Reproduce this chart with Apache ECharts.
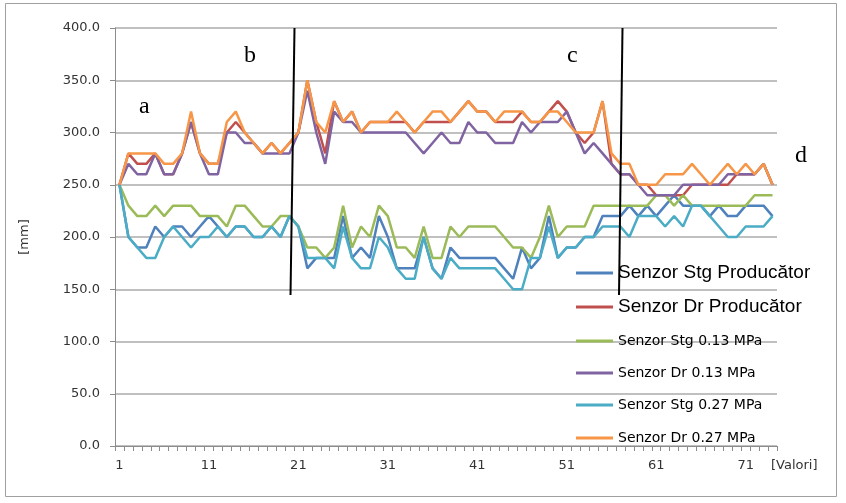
<!DOCTYPE html>
<html>
<head>
<meta charset="utf-8">
<script src="https://cdn.jsdelivr.net/npm/echarts@6/dist/echarts.min.js"></script>
<style>
html,body{margin:0;padding:0;background:#fff;}
#chart{width:846px;height:503px;}
</style>
</head>
<body>
<div id="chart"></div>
<script>
// ---- data ----
var categories = [];
for (var i = 1; i <= 74; i++) categories.push(String(i));

var seriesNames = [
  'Senzor Stg Producător',
  'Senzor Dr Producător',
  'Senzor Stg 0.13 MPa',
  'Senzor Dr 0.13 MPa',
  'Senzor Stg 0.27 MPa',
  'Senzor Dr 0.27 MPa'
];

var stgProducator = [
  250,200,190,190,210,200,210,210,200,210,
  220,210,200,210,210,200,200,210,200,220,
  210,170,180,180,180,220,180,190,180,220,
  200,170,170,170,200,170,160,190,180,180,
  180,180,180,170,160,190,170,180,220,180,
  190,190,200,200,220,220,220,230,220,230,
  220,230,240,230,230,230,220,230,220,220,
  230,230,230,220
];
var drProducator = [
  250,280,270,270,280,260,260,280,310,280,
  270,270,300,310,300,290,280,290,280,290,
  300,350,310,280,330,310,320,300,310,310,
  310,310,310,300,310,310,310,310,320,330,
  320,320,310,310,310,320,310,310,320,330,
  320,300,290,300,330,270,260,260,250,250,
  240,240,240,240,250,250,250,250,250,260,
  260,260,270,250
];
var stg013 = [
  250,230,220,220,230,220,230,230,230,220,
  220,220,210,230,230,220,210,210,220,220,
  210,190,190,180,190,230,190,210,200,230,
  220,190,190,180,210,180,180,210,200,210,
  210,210,210,200,190,190,180,200,230,200,
  210,210,210,230,230,230,230,230,230,230,
  240,240,230,240,230,230,230,230,230,230,
  230,240,240,240
];
var dr013 = [
  250,270,260,260,280,260,260,280,310,280,
  260,260,300,300,290,290,280,280,280,280,
  300,340,300,270,320,310,310,300,300,300,
  300,300,300,290,280,290,300,290,290,310,
  300,300,290,290,290,310,300,310,310,310,
  320,300,280,290,280,270,260,260,250,240,
  240,240,240,250,250,250,250,250,260,260,
  260,260,270,250
];
var stg027 = [
  250,200,190,180,180,200,210,200,190,200,
  200,210,200,210,210,200,200,210,200,220,
  210,180,180,180,170,210,180,170,170,200,
  190,170,160,160,200,170,160,180,170,170,
  170,170,170,160,150,150,180,180,210,180,
  190,190,200,200,210,210,210,200,220,220,
  220,210,220,210,230,230,220,210,200,200,
  210,210,210,220
];
var dr027 = [
  250,280,280,280,280,270,270,280,320,280,
  270,270,310,320,300,290,280,290,280,290,
  300,350,310,300,330,310,320,300,310,310,
  310,320,310,300,310,320,320,310,320,330,
  320,320,310,320,320,320,310,310,320,320,
  310,300,300,300,330,280,270,270,250,250,
  250,260,260,260,270,260,250,260,270,260,
  270,260,270,250
];
var seriesData = [stgProducator, drProducator, stg013, dr013, stg027, dr027];
var colors = ['#4F81BD', '#C0504D', '#9BBB59', '#8064A2', '#4BACC6', '#F79646'];
var yTicks = { min: 0, max: 400, interval: 50 };
var annotations = ['a', 'b', 'c', 'd'];

// ---- chart ----
var chart = echarts.init(document.getElementById('chart'), null, { renderer: 'canvas' });

var series = seriesData.map(function (d, k) {
  return {
    name: seriesNames[k],
    type: 'line',
    data: d,
    symbol: 'none',
    smooth: false,
    lineStyle: { width: 2.5, color: colors[k] },
    itemStyle: { color: colors[k] },
    z: 2 + k
  };
});

var legendRows = [273, 307, 341, 373, 405, 438];
var legendFont = [19, 19, 14, 14, 14, 14];
var legendFamily = ['Liberation Sans', 'Liberation Sans', 'DejaVu Sans', 'DejaVu Sans', 'DejaVu Sans', 'DejaVu Sans'];
var legends = seriesNames.map(function (n, k) {
  return {
    data: [n],
    left: 576,
    top: legendRows[k] - legendFont[k] / 2,
    padding: 0,
    icon: 'rect',
    itemWidth: 37,
    itemHeight: 3,
    selectedMode: false,
    textStyle: { fontSize: legendFont[k], fontFamily: legendFamily[k], color: '#000', padding: [0, 0, 0, 0] }
  };
});

var option = {
  backgroundColor: '#fff',
  animation: false,
  color: colors,
  grid: { left: 115, right: 69, top: 28, bottom: 57, containLabel: false },
  legend: legends,
  xAxis: {
    type: 'category',
    data: categories,
    boundaryGap: true,
    axisLine: { lineStyle: { color: '#8c8c8c', width: 1 } },
    axisTick: { show: true, interval: 0, length: 5, lineStyle: { color: '#8c8c8c' } },
    axisLabel: { interval: 9, color: '#333', fontFamily: 'DejaVu Sans', fontSize: 13, margin: 13 },
    splitLine: { show: false }
  },
  yAxis: {
    type: 'value',
    min: yTicks.min, max: yTicks.max, interval: yTicks.interval,
    name: '[mm]',
    nameLocation: 'middle',
    nameGap: 84,
    nameTextStyle: { color: '#333', fontFamily: 'DejaVu Sans', fontSize: 13 },
    axisLine: { show: true, lineStyle: { color: '#8c8c8c', width: 1 } },
    axisTick: { show: true, length: 5, lineStyle: { color: '#8c8c8c' } },
    axisLabel: { color: '#333', fontFamily: 'DejaVu Sans', fontSize: 13, margin: 15,
      formatter: function (v) { return v.toFixed(1); } },
    splitLine: { show: true, lineStyle: { color: '#ababab', width: 1.5 } }
  },
  series: series,
  graphic: [
    { type: 'rect', shape: { x: 5.5, y: 3.5, width: 831, height: 493 }, style: { fill: 'none', stroke: '#a0a0a0', lineWidth: 1 }, z: 0, silent: true },
    { type: 'line', shape: { x1: 294.5, y1: 28, x2: 290.5, y2: 295 }, style: { stroke: '#000', lineWidth: 2 }, z: 100 },
    { type: 'line', shape: { x1: 622.5, y1: 28, x2: 619, y2: 295 }, style: { stroke: '#000', lineWidth: 2 }, z: 100 },
    { type: 'text', left: 139, top: 95, style: { text: annotations[0], font: '24px "Liberation Serif"', fill: '#000' }, z: 100 },
    { type: 'text', left: 244, top: 44, style: { text: annotations[1], font: '24px "Liberation Serif"', fill: '#000' }, z: 100 },
    { type: 'text', left: 567, top: 44, style: { text: annotations[2], font: '24px "Liberation Serif"', fill: '#000' }, z: 100 },
    { type: 'text', left: 795, top: 144, style: { text: annotations[3], font: '24px "Liberation Serif"', fill: '#000' }, z: 100 },
    { type: 'text', left: 771, top: 459, style: { text: '[Valori]', font: '13px "DejaVu Sans"', fill: '#333' }, z: 100 }
  ]
};
chart.setOption(option);
</script>
</body>
</html>
